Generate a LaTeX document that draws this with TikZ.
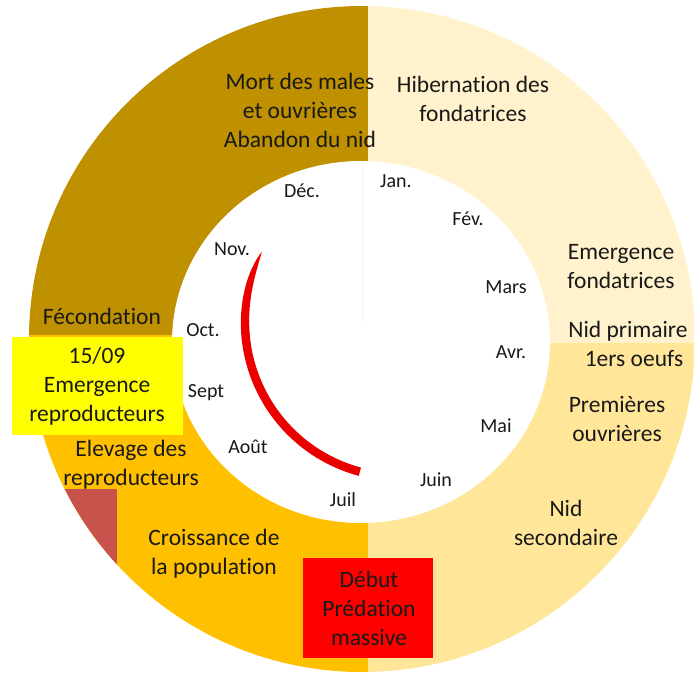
\documentclass[tikz,border=0pt]{standalone}
\usepackage{fontspec}
\setmainfont{Carlito}[Ligatures=NoCommon]
\definecolor{cBrown}{HTML}{BF9000}
\definecolor{cCream}{HTML}{FFF2CC}
\definecolor{cGold}{HTML}{FFE699}
\definecolor{cOrange}{HTML}{FFC000}
\definecolor{cDarkRed}{RGB}{200,82,76}
\definecolor{cYellow}{HTML}{FFFF00}
\definecolor{cRed}{HTML}{FF0000}
\definecolor{cArc}{RGB}{235,0,0}
\definecolor{cText}{RGB}{25,25,25}
\begin{document}
\begin{tikzpicture}[x=1pt,y=-1pt,
  lbl/.style={font=\fontsize{23.5}{29}\selectfont, align=center, inner sep=0pt, text=cText},
  mon/.style={font=\fontsize{20}{24}\selectfont, inner sep=0pt, text=cText}]
\useasboundingbox (0,0) rectangle (694,673);
% ring regions
\begin{scope}
  \clip (362,339) circle[radius=333];
  \fill[cBrown] (0,0) rectangle (368,335);
  \fill[cCream] (368,0) rectangle (700,343);
  \fill[cGold] (368,343) rectangle (700,700);
  \fill[cOrange] (0,335) rectangle (368,700);
  \fill[cDarkRed] (0,489) rectangle (117,700);
\end{scope}
% inner white disc
\fill[white] (361,342) ellipse[x radius=189, y radius=181];
\draw[black!4, line width=0.8] (362,162) -- (362,322);
% red arc
\fill[cArc] plot[domain=207:105, samples=80]
  ({400+(155+4.3*(1-exp(-(207-\x)/8)))*cos(\x)}, {322+(155+4.3*(1-exp(-(207-\x)/8)))*sin(\x)})
  -- plot[domain=105:207, samples=80]
  ({400+(155-4.3*(1-exp(-(207-\x)/8)))*cos(\x)}, {322+(155-4.3*(1-exp(-(207-\x)/8)))*sin(\x)}) -- cycle;
% boxes
\fill[cYellow] (12,337) rectangle (183,435);
\fill[cRed] (303,558) rectangle (433,658);
% ring labels
\node[lbl] (mort) at (300,110) {Mort des males\\et ouvrières\\Abandon du nid};
\node[lbl] (hib) at (473,99) {Hibernation des\\fondatrices};
\node[lbl] (emf) at (621,267) {Emergence\\fondatrices};
\node[lbl] (nidp) at (628,344) {Nid primaire\\\hspace*{12pt}1ers oeufs};
\node[lbl] (prem) at (617,419) {Premières\\ouvrières};
\node[lbl] (nids) at (566,523) {Nid\\secondaire};
\node[lbl] (fec) at (102,316) {Fécondation};
\node[lbl] (emr) at (97,386) {15/09\\Emergence\\reproducteurs};
\node[lbl] (elev) at (131,465) {Elevage des\\reproducteurs};
\node[lbl] (crois) at (214,554) {Croissance de\\la population};
\node[lbl] (pred) at (369,608) {Début\\Prédation\\massive};
% months
\node[mon] (dec) at (302,191) {Déc.};
\node[mon] (jan) at (396,181) {Jan.};
\node[mon] (fev) at (468,219) {Fév.};
\node[mon] (mar) at (506,287) {Mars};
\node[mon] (avr) at (511,352) {Avr.};
\node[mon] (mai) at (496,426) {Mai};
\node[mon] (jun) at (436,480) {Juin};
\node[mon] (jul) at (343,500) {Juil};
\node[mon] (aou) at (248,447) {Août};
\node[mon] (sep) at (206,393) {Sept};
\node[mon] (oct) at (203,330) {Oct.};
\node[mon] (nov) at (232,249) {Nov.};
\end{tikzpicture}
\end{document}
